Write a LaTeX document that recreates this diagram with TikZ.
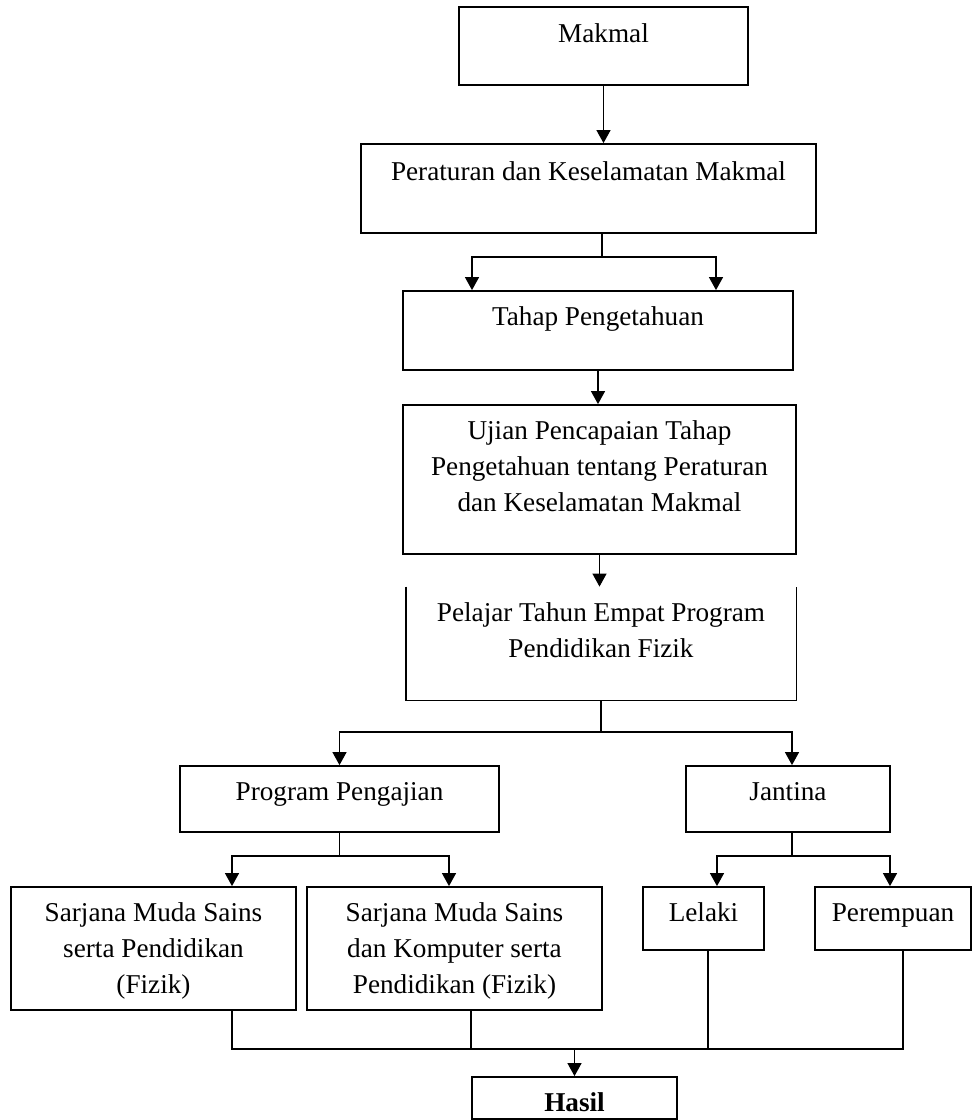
\documentclass[tikz,border=0pt]{standalone}
\usepackage{fontspec}
\setmainfont{Liberation Serif}
\usetikzlibrary{arrows.meta}

\begin{document}
\begin{tikzpicture}[x=0.5pt,y=-0.5pt,font=\fontsize{13.6}{18}\selectfont]
\tikzset{box/.style = {draw, line width=0.9pt, inner sep=0pt}}
\tikzset{txt/.style = {align=center, anchor=base, inner sep=0pt}}
\tikzset{edge/.style = {-{Triangle[length=6.5pt,width=7pt]}, line width=0.6pt}}
\tikzset{link/.style = {line width=0.6pt}}
\useasboundingbox (0,0) rectangle (972,1120);
% vertices
\node[box, minimum width=144.5pt, minimum height=39pt] (mak) at (603.5,46) {};
\node[box, minimum width=227.5pt, minimum height=44.5pt] (per) at (588.5,188.5) {};
\node[box, minimum width=195pt, minimum height=39.5pt] (tah) at (598,330.5) {};
\node[box, minimum width=196.5pt, minimum height=74.5pt] (uji) at (599.5,479.5) {};
\node[inner sep=0pt, minimum width=195pt, minimum height=56.5pt] (pel) at (601,643.5) {};
\draw[line width=0.9pt] (pel.north west) -- (pel.south west) -- (pel.south east) -- (pel.north east);
\node[box, minimum width=159.5pt, minimum height=33pt] (prog) at (339.5,799) {};
\node[box, minimum width=102pt, minimum height=33pt] (jan) at (788,799) {};
\node[box, minimum width=142.5pt, minimum height=61.5pt] (sar1) at (153.5,948.5) {};
\node[box, minimum width=147.5pt, minimum height=61.5pt] (sar2) at (454.5,948.5) {};
\node[box, minimum width=60.5pt, minimum height=31.5pt] (lel) at (703.5,918.5) {};
\node[box, minimum width=78pt, minimum height=31.5pt] (pem) at (893,918.5) {};
\node[box, minimum width=102.5pt, minimum height=21pt] (has) at (574.5,1098) {};

% texts (multi-line ones sit on their last baseline)
\node[txt] (makT) at (603.5,42) {Makmal};
\node[txt] (perT) at (588.5,180) {Peraturan dan Keselamatan Makmal};
\node[txt] (tahT) at (598,325) {Tahap Pengetahuan};
\node[txt] (ujiT) at (599.5,511) {Ujian Pencapaian Tahap\\Pengetahuan tentang Peraturan\\dan Keselamatan Makmal};
\node[txt] (pelT) at (601,657) {Pelajar Tahun Empat Program\\Pendidikan Fizik};
\node[txt] (progT) at (339.5,800) {Program Pengajian};
\node[txt] (janT) at (788,800) {Jantina};
\node[txt] (sar1T) at (153.5,993) {Sarjana Muda Sains\\serta Pendidikan\\(Fizik)};
\node[txt] (sar2T) at (454.5,993) {Sarjana Muda Sains\\dan Komputer serta\\Pendidikan (Fizik)};
\node[txt] (lelT) at (703.5,921) {Lelaki};
\node[txt] (pemT) at (893,921) {Perempuan};
\node[txt] (hasT) at (574.5,1111) {\bfseries Hasil};

%edges
\coordinate (j1) at (602,257);
\coordinate (j2) at (601,732);
\coordinate (j3) at (339.5,856);
\coordinate (j4) at (792,856);
\coordinate (m) at (574.5,1049);
\draw[edge] (mak.south) -- (mak.south |- per.north);
\draw[link] (j1 |- per.south) -- (j1);
\draw[edge] (j1) -| ([xshift=-63pt]tah.north);
\draw[edge] (j1) -| ([xshift=59pt]tah.north);
\draw[edge] (tah.south) -- (tah.south |- uji.north);
\draw[edge] (uji.south) -- (uji.south |- pel.north);
\draw[link] (j2 |- pel.south) -- (j2);
\draw[edge] (j2) -| (prog);
\draw[edge] (j2) -| ([xshift=2pt]jan.north);
\draw[link] (prog.south) -- (j3);
\draw[edge] (j3) -| ([xshift=39.25pt]sar1.north);
\draw[edge] (j3) -| ([xshift=-2.75pt]sar2.north);
\draw[link] (j4 |- jan.south) -- (j4);
\draw[edge] (j4) -| ([xshift=6.75pt]lel.north);
\draw[edge] (j4) -| ([xshift=-1.5pt]pem.north);
\draw[link] ([xshift=39.25pt]sar1.south) |- (m);
\draw[link] ([xshift=8.25pt]sar2.south) |- (m);
\draw[link] ([xshift=2.25pt]lel.south) |- (m);
\draw[link] ([xshift=5pt]pem.south) |- (m);
\draw[edge] (m) -- (has);
\end{tikzpicture}
\end{document}
